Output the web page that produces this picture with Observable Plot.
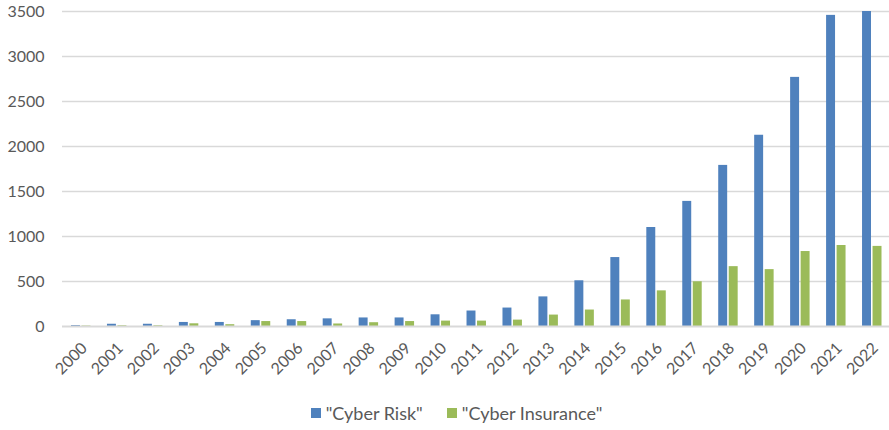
<!DOCTYPE html>
<html>
<head>
<meta charset="utf-8">
<script src="https://cdn.jsdelivr.net/npm/d3@7"></script>
<script src="https://cdn.jsdelivr.net/npm/@observablehq/plot@0.6"></script>
<style>
  html, body { margin: 0; padding: 0; background: #fff; }
  body { width: 889px; height: 430px; overflow: hidden; font-family: Lato, "Open Sans", sans-serif; }
  #legend { display: flex; justify-content: center; align-items: center; gap: 24px; height: 35px; font-size: 18px; color: #595959; margin-left: 24px; }
  .item { display: flex; align-items: center; gap: 5px; }
  .sw { width: 10px; height: 10px; display: inline-block; }
</style>
</head>
<body>
<div id="chart"></div>
<div id="legend"></div>
<script>
const years = ["2000","2001","2002","2003","2004","2005","2006","2007","2008","2009","2010","2011","2012","2013","2014","2015","2016","2017","2018","2019","2020","2021","2022"];
const cyberRisk = [10, 25, 25, 45, 45, 65, 75, 85, 95, 95, 130, 172, 205, 329, 508, 766, 1100, 1390, 1790, 2125, 2768, 3457, 3500];
const cyberInsurance = [5, 8, 8, 30, 20, 55, 55, 28, 42, 55, 60, 60, 71, 127, 183, 295, 396, 497, 665, 632, 833, 900, 890];
const seriesNames = ['"Cyber Risk"', '"Cyber Insurance"'];
const seriesColors = ["#4f81bd", "#9bbb59"];
const yTicks = [0, 500, 1000, 1500, 2000, 2500, 3000, 3500];

const risk = years.map((y, i) => ({year: y, value: cyberRisk[i]}));
const ins = years.map((y, i) => ({year: y, value: cyberInsurance[i]}));

const chart = Plot.plot({
  width: 889,
  height: 395,
  marginTop: 11,
  marginLeft: 62,
  marginRight: 0,
  marginBottom: 69,
  style: {fontFamily: "Lato, 'Open Sans', sans-serif", fontSize: "16px", color: "#595959", background: "#fff"},
  x: {domain: years, padding: 0, round: false, label: null, axis: null},
  y: {domain: [0, 3500], ticks: yTicks, label: null, tickSize: 0, tickPadding: 18, tickFormat: d => String(d)},
  marks: [
    Plot.gridY(yTicks.filter(d => d > 0), {stroke: "#d9d9d9", strokeOpacity: 1, strokeWidth: 1.5}),
    Plot.barY(risk, {x: "year", y: "value", fill: seriesColors[0], insetLeft: 9, insetRight: 18}),
    Plot.barY(ins, {x: "year", y: "value", fill: seriesColors[1], insetLeft: 19.5, insetRight: 7.5}),
    Plot.ruleY([0], {stroke: "#d9d9d9", strokeWidth: 2}),
    Plot.axisX({tickSize: 0, tickPadding: 19, tickRotate: -45, dx: 4, fill: "#595959", fontSize: 16})
  ]
});
document.getElementById("chart").appendChild(chart);

const legend = document.getElementById("legend");
seriesNames.forEach((n, i) => {
  const it = document.createElement("div");
  it.className = "item";
  const sw = document.createElement("span");
  sw.className = "sw";
  sw.style.background = seriesColors[i];
  const t = document.createElement("span");
  t.textContent = n;
  it.appendChild(sw); it.appendChild(t);
  legend.appendChild(it);
});
</script>
</body>
</html>
